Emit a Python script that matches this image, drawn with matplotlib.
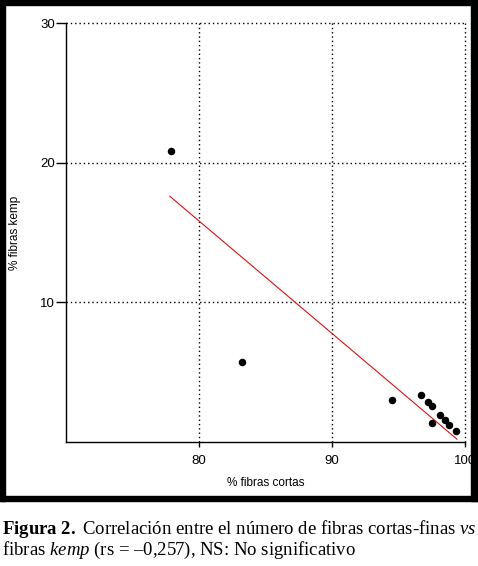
import numpy as np
import matplotlib
matplotlib.use("Agg")
import matplotlib.pyplot as plt
from matplotlib.patches import Rectangle

# % fibras cortas vs % fibras kemp
fibras_cortas = [77.9, 83.2, 94.5, 96.7, 97.2, 97.5, 97.5, 98.1, 98.5, 98.8, 99.3]
fibras_kemp = [20.8, 5.7, 3.0, 3.4, 2.85, 2.55, 1.35, 1.95, 1.6, 1.25, 0.8]

# regression line as drawn in the figure
fit_x = [77.8, 99.4]
fit_y = [17.6, 0.2]

xticks = [80, 90, 100]
yticks = [10, 20, 30]

plt.rcParams['font.family'] = ['Liberation Sans', 'DejaVu Sans']
plt.rcParams['mathtext.fontset'] = 'custom'
plt.rcParams['mathtext.rm'] = 'Liberation Serif'
plt.rcParams['mathtext.it'] = 'Liberation Serif:italic'
plt.rcParams['mathtext.bf'] = 'Liberation Serif:bold'

W, H = 478, 566
fig = plt.figure(figsize=(W / 100, H / 100), dpi=100)

# black frame around the chart
def band(x0, y0, x1, y1):
    fig.patches.append(Rectangle((x0 / W, 1 - y1 / H), (x1 - x0) / W, (y1 - y0) / H,
                                 transform=fig.transFigure, color='black', zorder=0))
band(0, 0, W, 5)
band(0, 0, 5, 501)
band(471, 0, W, 501)
band(0, 496, W, 501)

ax = fig.add_axes([66 / W, 1 - 442 / H, (465 - 66) / W, (442 - 23) / H])
ax.set_xlim(70, 100)
ax.set_ylim(0, 30)

ax.plot(fibras_cortas, fibras_kemp, 'o', color='black', ms=4.4, zorder=3)
ax.plot(fit_x, fit_y, color='#e01010', lw=0.8, zorder=2)

ax.set_xticks(xticks)
ax.set_yticks(yticks)
ax.grid(True, color='black', lw=1.0, linestyle=(0, (1, 2.1)))
for gl in ax.get_xgridlines() + ax.get_ygridlines():
    gl.set_clip_on(False)

ax.spines['top'].set_visible(False)
ax.spines['right'].set_visible(False)
ax.spines['left'].set_linewidth(1.0)
ax.spines['bottom'].set_linewidth(1.0)
ax.tick_params(axis='x', length=3.6, width=1.0, pad=5.5, labelsize=9.5)
ax.tick_params(axis='y', length=7, width=1.0, pad=1, labelsize=9.5)

ax.set_xlabel('% fibras cortas', fontsize=8.5)
ax.xaxis.set_label_coords(0.5, (442 - 483) / 419)
ax.xaxis.label.set_va('center')
ax.set_ylabel('% fibras kemp', fontsize=8.5)
ax.yaxis.set_label_coords((15 - 66) / 399, 0.5)
ax.yaxis.label.set_va('center')

cap1 = r'$\mathbf{Figura\ 2.}$ Correlación entre el número de fibras cortas-finas $\mathit{vs}$'
cap2 = r'fibras $\mathit{kemp}$ (rs = –0,257), NS: No significativo'
fig.text(2 / W, 1 - 534 / H, cap1, fontsize=13.5, family='Liberation Serif', va='baseline', ha='left')
fig.text(2 / W, 1 - 555 / H, cap2, fontsize=13.5, family='Liberation Serif', va='baseline', ha='left')

fig.savefig('out.png', dpi=100)
